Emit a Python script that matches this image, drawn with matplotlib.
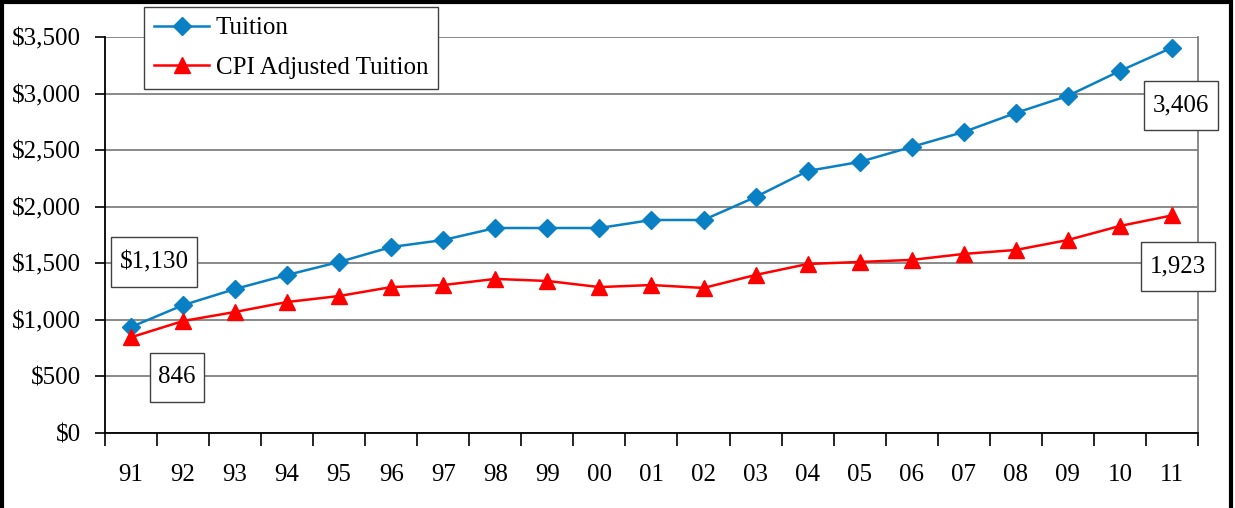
"""Tuition vs CPI adjusted tuition, 1991-2011."""

import matplotlib.pyplot as plt
from matplotlib.patches import Rectangle
from matplotlib.path import Path
from matplotlib.ticker import FuncFormatter

YEARS = ["91", "92", "93", "94", "95", "96", "97", "98", "99", "00", "01",
         "02", "03", "04", "05", "06", "07", "08", "09", "10", "11"]
TUITION = [937, 1130, 1273, 1397, 1512, 1644, 1706, 1812, 1812, 1812, 1883,
           1883, 2086, 2316, 2396, 2529, 2661, 2829, 2980, 3200, 3406]
CPI_TUITION = [846, 990, 1070, 1158, 1211, 1290, 1308, 1362, 1344, 1290, 1308,
               1282, 1397, 1494, 1512, 1530, 1583, 1618, 1706, 1830, 1923]
Y_TICKS = [0, 500, 1000, 1500, 2000, 2500, 3000, 3500]

BLUE = "#0A80C4"
RED = "#FF0000"
GRID = "#808080"

plt.rcParams["font.family"] = ["Liberation Serif", "DejaVu Serif"]
plt.rcParams["font.size"] = 18


def _label_box(x0, y0, width, height, mutation_size):
    # wider vertical than horizontal padding, like the source boxes
    px, py = 0.34 * mutation_size, 0.55 * mutation_size
    x0, y0 = x0 - px, y0 - py
    x1, y1 = x0 + width + 2 * px, y0 + height + 2 * py
    return Path([(x0, y0), (x1, y0), (x1, y1), (x0, y1), (x0, y0)], closed=True)


fig = plt.figure(figsize=(12.35, 5.08), dpi=100)
ax = fig.add_axes([0.085, 0.1476, 0.885, 0.7795])

x = list(range(len(YEARS)))
ax.plot(x, TUITION, color=BLUE, lw=1.8, marker="D", ms=9.5, label="Tuition")
ax.plot(x, CPI_TUITION, color=RED, lw=1.8, marker="^", ms=11,
        label="CPI Adjusted Tuition")

ax.set_xlim(-0.5, len(YEARS) - 0.5)
ax.set_ylim(0, 3500)
ax.set_yticks(Y_TICKS)
ax.yaxis.set_major_formatter(FuncFormatter(lambda v, _: f"${v:,.0f}"))
ax.yaxis.grid(True, color=GRID, lw=1.3)
ax.set_axisbelow(True)
ax.tick_params(axis="y", direction="out", length=7, width=1.2, pad=10)

ax.set_xticks([i - 0.5 for i in range(len(YEARS) + 1)])
ax.set_xticklabels([])
ax.set_xticks(x, minor=True)
ax.set_xticklabels(YEARS, minor=True)
ax.tick_params(axis="x", which="major", direction="out", length=9, width=1.2)
ax.tick_params(axis="x", which="minor", length=0, pad=22)

ax.spines["top"].set_visible(False)
ax.spines["right"].set_color(GRID)
ax.spines["right"].set_linewidth(1.3)
for side in ("left", "bottom"):
    ax.spines[side].set_linewidth(1.3)

box = dict(boxstyle=_label_box, fc="white", ec="#404040", lw=1.0)
labels = [
    (1, TUITION[1], f"${TUITION[1]:,.0f}", (-29, 43)),
    (0, CPI_TUITION[0], f"{CPI_TUITION[0]:,.0f}", (46, -40)),
    (20, TUITION[20], f"{TUITION[20]:,.0f}", (9, -58)),
    (20, CPI_TUITION[20], f"{CPI_TUITION[20]:,.0f}", (6, -51)),
]
for xi, yi, text, offset in labels:
    ax.annotate(text, (xi, yi), xytext=offset, textcoords="offset pixels",
                ha="center", va="center", bbox=box, annotation_clip=False)

leg = ax.legend(loc="upper left", bbox_to_anchor=(0.036, 1.076), frameon=True,
                fancybox=False, edgecolor="#404040", framealpha=1,
                handlelength=2.2, borderpad=0.4, labelspacing=0.68,
                handletextpad=0.25, borderaxespad=0)
leg.get_frame().set_linewidth(1.0)

fig.patches.append(Rectangle((0.002, -0.01), 0.995, 1.006, transform=fig.transFigure,
                             fill=False, ec="black", lw=3))

fig.savefig("out.png", dpi=100)
